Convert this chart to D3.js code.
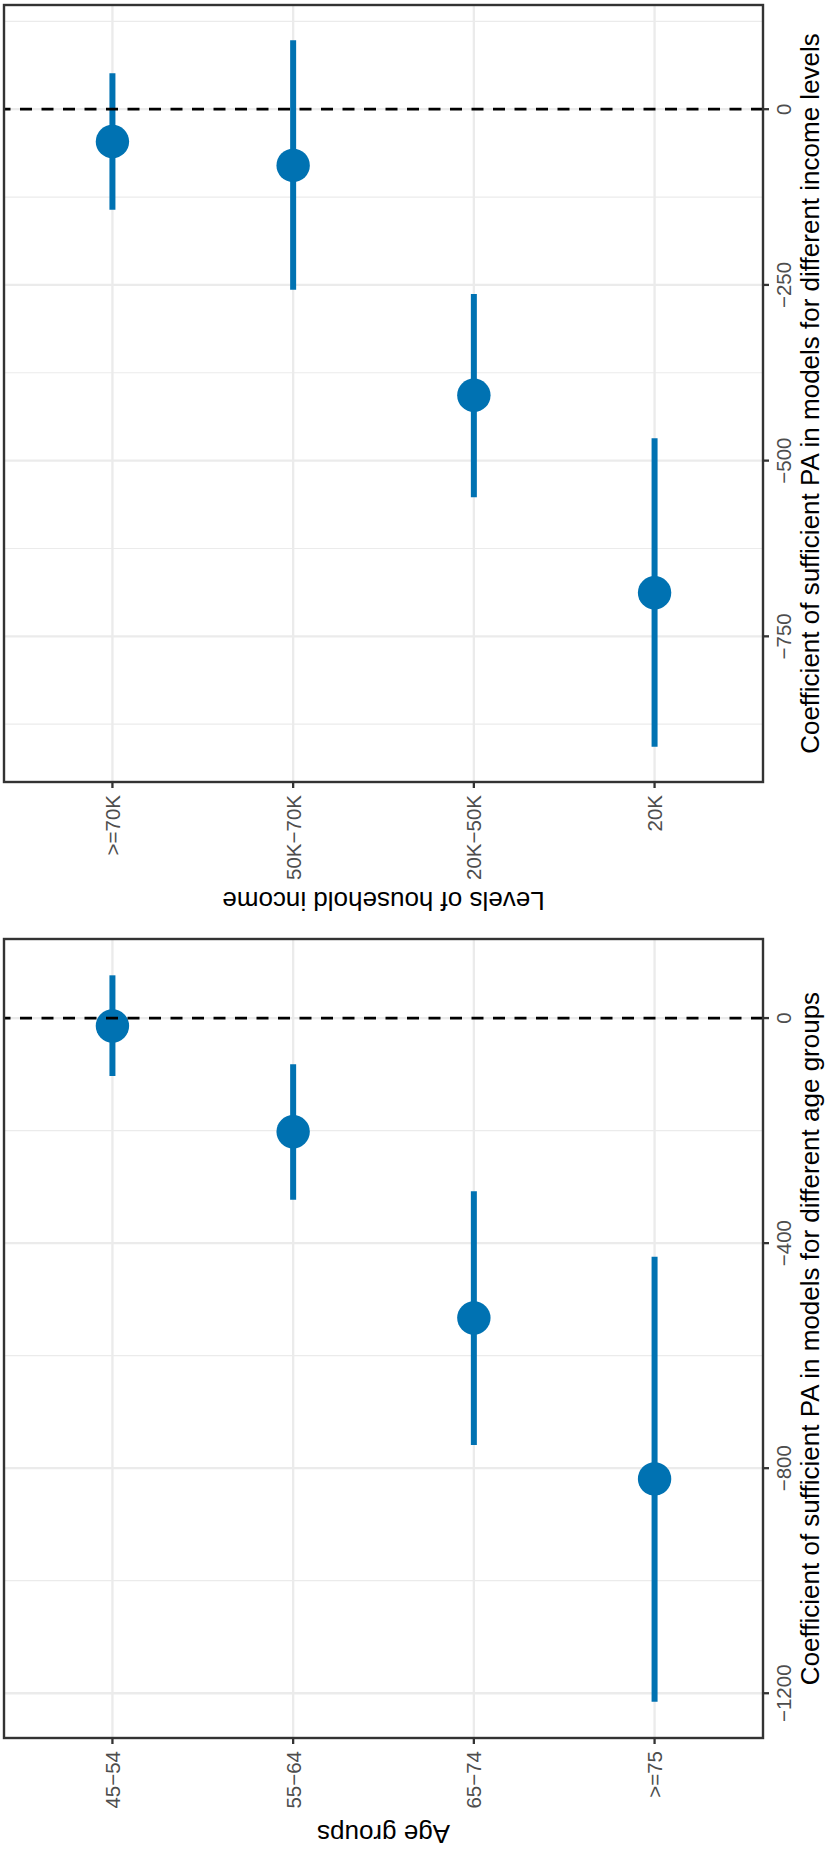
<!DOCTYPE html>
<html>
<head>
<meta charset="utf-8">
<script src="https://cdn.jsdelivr.net/npm/d3@7"></script>
<style>
  body { margin: 0; background: #fff; }
  text { font-family: "Liberation Sans", Arial, Helvetica, sans-serif; }
</style>
</head>
<body>
<div id="chart"></div>
<script>
// age panel
var ageGroups = ["45-54", "55-64", "65-74", ">=75"];
var ageEstimate = [-14, -202, -533, -819];
var ageLower = [-103, -323, -759, -1215];
var ageUpper = [76, -82, -308, -424];
var ageTicks = [-1200, -800, -400, 0];

// income panel
var incomeLevels = [">=70K", "50K-70K", "20K-50K", "20K"];
var incomeEstimate = [-46, -80, -407, -688];
var incomeLower = [-143, -257, -552, -907];
var incomeUpper = [51, 98, -263, -468];
var incomeTicks = [-750, -500, -250, 0];

var W = 829, H = 1849;
var blue = "#0072B2";

var svg = d3.select("#chart").append("svg")
  .attr("width", W)
  .attr("height", H);

svg.append("rect").attr("width", W).attr("height", H).attr("fill", "#fff");

// the whole ggplot is drawn side by side, then turned a quarter turn
var root = svg.append("g").attr("transform", `translate(0,${H}) rotate(-90)`);

function drawPanel(cfg) {
  var top = 4, bottom = 763;
  var all = cfg.lower.concat(cfg.upper, [0]);
  var ext = d3.extent(all);
  var pad = (ext[1] - ext[0]) * 0.05;

  var x = d3.scaleLinear()
    .domain([ext[0] - pad, ext[1] + pad])
    .range([cfg.left, cfg.right]);

  var y = d3.scalePoint()
    .domain(cfg.cats)
    .range([top, bottom])
    .padding(0.6);

  var step = cfg.ticks[1] - cfg.ticks[0];
  var minor = d3.range(cfg.ticks[0] - step / 2, cfg.ticks[cfg.ticks.length - 1] + step, step)
    .filter(d => d > x.domain()[0] && d < x.domain()[1]);

  var g = root.append("g");

  g.append("rect")
    .attr("x", cfg.left).attr("y", top)
    .attr("width", cfg.right - cfg.left).attr("height", bottom - top)
    .attr("fill", "#fff");

  g.append("g").selectAll("line")
    .data(minor)
    .enter().append("line")
    .attr("x1", d => x(d)).attr("x2", d => x(d))
    .attr("y1", top).attr("y2", bottom)
    .attr("stroke", "#EBEBEB").attr("stroke-width", 1.2);

  g.append("g").selectAll("line")
    .data(cfg.ticks)
    .enter().append("line")
    .attr("x1", d => x(d)).attr("x2", d => x(d))
    .attr("y1", top).attr("y2", bottom)
    .attr("stroke", "#EBEBEB").attr("stroke-width", 2.3);

  g.append("g").selectAll("line")
    .data(cfg.cats)
    .enter().append("line")
    .attr("x1", cfg.left).attr("x2", cfg.right)
    .attr("y1", d => y(d)).attr("y2", d => y(d))
    .attr("stroke", "#EBEBEB").attr("stroke-width", 2.3);

  var rows = cfg.cats.map((c, i) => ({cat: c, est: cfg.est[i], lo: cfg.lower[i], hi: cfg.upper[i]}));

  g.append("g").selectAll("line")
    .data(rows)
    .enter().append("line")
    .attr("x1", d => x(d.lo)).attr("x2", d => x(d.hi))
    .attr("y1", d => y(d.cat)).attr("y2", d => y(d.cat))
    .attr("stroke", blue).attr("stroke-width", 6);

  g.append("g").selectAll("circle")
    .data(rows)
    .enter().append("circle")
    .attr("cx", d => x(d.est))
    .attr("cy", d => y(d.cat))
    .attr("r", 16.7)
    .attr("fill", blue);

  // zero line
  g.append("line")
    .attr("x1", x(0)).attr("x2", x(0))
    .attr("y1", bottom).attr("y2", top)
    .attr("stroke", "#000").attr("stroke-width", 2.8)
    .attr("stroke-dasharray", "12,9.5");

  g.append("rect")
    .attr("x", cfg.left).attr("y", top)
    .attr("width", cfg.right - cfg.left).attr("height", bottom - top)
    .attr("fill", "none").attr("stroke", "#333333").attr("stroke-width", 2.4);

  // coefficient axis (bottom of the unrotated plot)
  var fmt = d3.format("");
  var xt = g.append("g").selectAll("g")
    .data(cfg.ticks)
    .enter().append("g")
    .attr("transform", d => `translate(${x(d)},0)`);
  xt.append("line")
    .attr("y1", bottom).attr("y2", bottom + 6)
    .attr("stroke", "#333333").attr("stroke-width", 2.3);
  xt.append("text")
    .attr("y", 791)
    .attr("text-anchor", "middle")
    .attr("font-size", 20.5)
    .attr("fill", "#4D4D4D")
    .text(d => fmt(d));

  // category axis
  var yt = g.append("g").selectAll("g")
    .data(cfg.cats)
    .enter().append("g")
    .attr("transform", d => `translate(0,${y(d)})`);
  yt.append("line")
    .attr("x1", cfg.left - 6).attr("x2", cfg.left)
    .attr("stroke", "#333333").attr("stroke-width", 2.3);
  yt.append("text")
    .attr("x", cfg.left - 13)
    .attr("dy", "0.36em")
    .attr("text-anchor", "end")
    .attr("font-size", 20.5)
    .attr("fill", "#4D4D4D")
    .text(d => d.replace(/-/g, "\u2212"));

  g.append("text")
    .attr("x", (cfg.left + cfg.right) / 2)
    .attr("y", 819)
    .attr("text-anchor", "middle")
    .attr("font-size", 26)
    .attr("fill", "#000")
    .text(cfg.xTitle);

  g.append("text")
    .attr("transform", `translate(${cfg.yTitleAt},${(top + bottom) / 2}) rotate(-90)`)
    .attr("text-anchor", "middle")
    .attr("font-size", 26)
    .attr("fill", "#000")
    .text(cfg.yTitle);
}

drawPanel({
  cats: ageGroups, est: ageEstimate, lower: ageLower, upper: ageUpper, ticks: ageTicks,
  left: 111, right: 910, yTitleAt: 24.5,
  xTitle: "Coefficient of sufficient PA in models for different age groups",
  yTitle: "Age groups"
});

drawPanel({
  cats: incomeLevels, est: incomeEstimate, lower: incomeLower, upper: incomeUpper, ticks: incomeTicks,
  left: 1067, right: 1844, yTitleAt: 957,
  xTitle: "Coefficient of sufficient PA in models for different income levels",
  yTitle: "Levels of household income"
});
</script>
</body>
</html>
